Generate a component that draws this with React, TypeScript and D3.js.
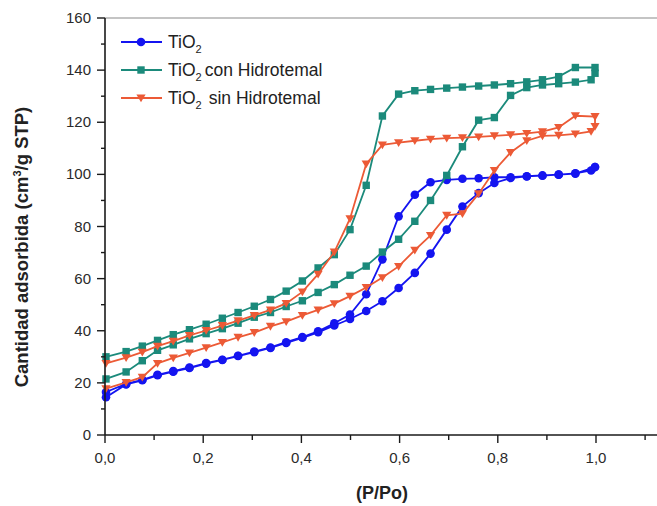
import React from "react";
import * as d3 from "d3";

// Relative pressure steps (P/Po) of the adsorption and desorption branches
const pAds = [0.002, 0.043, 0.076, 0.107, 0.139, 0.172, 0.206, 0.239, 0.271, 0.304, 0.337, 0.369, 0.402, 0.434, 0.467, 0.499, 0.532, 0.565, 0.598, 0.631, 0.663, 0.696, 0.728, 0.761, 0.793, 0.826, 0.859, 0.891, 0.924, 0.958, 0.99, 0.998];
const pDes = [0.998, 0.958, 0.924, 0.891, 0.859, 0.826, 0.793, 0.761, 0.728, 0.696, 0.663, 0.631, 0.598, 0.565, 0.532, 0.499, 0.467, 0.434, 0.402, 0.369, 0.337, 0.304, 0.271, 0.239, 0.206, 0.172, 0.139, 0.107, 0.076, 0.043, 0.002];

// TiO2
const tio2Ads = [14.5, 19.4, 21.0, 22.9, 24.3, 25.7, 27.4, 28.8, 30.3, 31.8, 33.4, 35.3, 37.3, 39.4, 42.0, 44.5, 47.6, 51.3, 56.4, 62.2, 69.6, 78.8, 87.7, 92.8, 96.7, 98.6, 99.2, 99.5, 99.9, 100.4, 101.5, 102.8];
const tio2Des = [102.8, 100.3, 99.9, 99.6, 99.3, 98.9, 98.9, 98.5, 98.3, 97.9, 97.0, 92.2, 83.9, 67.4, 54.0, 46.2, 42.9, 39.8, 37.6, 35.6, 33.6, 32.0, 30.4, 28.9, 27.6, 25.9, 24.5, 23.1, 21.2, 19.6, 16.5];

// TiO2 con Hidrotemal
const conAds = [21.5, 24.2, 28.5, 32.5, 34.6, 36.9, 38.9, 40.8, 42.9, 45.2, 47.0, 49.3, 51.5, 54.7, 57.7, 61.3, 64.8, 70.2, 75.1, 82.0, 90.0, 99.6, 110.6, 120.8, 121.8, 130.3, 133.3, 134.3, 134.8, 135.4, 136.3, 138.8];
const conDes = [141.0, 141.0, 137.5, 136.3, 135.5, 134.8, 134.3, 133.9, 133.5, 133.1, 132.6, 132.1, 130.8, 122.4, 95.8, 78.8, 69.2, 64.1, 59.1, 55.2, 52.0, 49.4, 47.0, 44.8, 42.5, 40.4, 38.5, 36.3, 34.1, 32.0, 30.0];

// TiO2 sin Hidrotemal
const sinAds = [17.8, 20.2, 22.2, 27.5, 29.6, 31.5, 33.5, 35.5, 37.5, 39.3, 41.7, 43.5, 45.9, 48.0, 50.4, 53.3, 56.6, 60.4, 64.7, 70.9, 76.6, 84.3, 84.9, 92.6, 101.5, 108.4, 112.9, 114.8, 115.0, 115.5, 116.5, 118.4];
const sinDes = [122.2, 122.5, 118.0, 116.4, 115.7, 115.2, 114.8, 114.4, 114.1, 113.9, 113.5, 112.9, 112.2, 111.3, 104.0, 83.0, 70.2, 61.7, 54.9, 50.5, 48.0, 45.9, 43.9, 42.0, 40.1, 38.2, 36.0, 34.1, 31.8, 29.7, 27.5];

const seriesNames = ["TiO2", "TiO2 con Hidrotemal", "TiO2 sin Hidrotemal"];
const seriesColors = ["#1414f0", "#1b8a7b", "#ec5a36"];
const seriesMarkers = ["circle", "square", "triangle"];

const xTicks = [0, 0.2, 0.4, 0.6, 0.8, 1.0];
const yTicks = [0, 20, 40, 60, 80, 100, 120, 140, 160];

const W = 657;
const H = 506;
const left = 105;
const top = 18;
const bottom = 435;

const x = d3.scaleLinear().domain([0, 1]).range([left, 596]);
const y = d3.scaleLinear().domain([0, 160]).range([bottom, top]);

type Pt = [number, number];

function loop(ads: number[], des: number[]): Pt[] {
  const a: Pt[] = pAds.map((p, i) => [p, ads[i]]);
  const d: Pt[] = pDes.map((p, i) => [p, des[i]]);
  return a.concat(d);
}

const series = [
  loop(tio2Ads, tio2Des),
  loop(conAds, conDes),
  loop(sinAds, sinDes),
];

const line = d3
  .line<Pt>()
  .x((d) => x(d[0]))
  .y((d) => y(d[1]));

const font = "'Liberation Sans', Arial, sans-serif";

function Marker({ kind, cx, cy, color }: { kind: string; cx: number; cy: number; color: string }) {
  if (kind === "circle") return <circle cx={cx} cy={cy} r={4.3} fill={color} />;
  if (kind === "square") return <rect x={cx - 3.7} y={cy - 3.7} width={7.4} height={7.4} fill={color} />;
  const s = 4.6;
  return (
    <path
      d={`M${cx - s},${cy - s * 0.75} L${cx + s},${cy - s * 0.75} L${cx},${cy + s * 0.95} Z`}
      fill={color}
    />
  );
}

export default function App() {
  React.useEffect(() => {
    document.body.style.margin = "0";
  }, []);

  const xMinor = d3.range(0, 12).map((i) => i / 10);
  const yMinor = d3.range(0, 17).map((i) => i * 10);
  const legendY = [42, 70, 98];

  return (
    <svg
      width={W}
      height={H}
      style={{ position: "absolute", left: 0, top: 0, background: "#fff" }}
      fontFamily={font}
    >
      <rect width={W} height={H} fill="#fff" />

      {/* top frame */}
      <line x1={left} x2={W} y1={top} y2={top} stroke="#8a8a8a" strokeWidth={1.2} />

      {/* data */}
      {series.map((pts, si) => (
        <g key={si}>
          <path d={line(pts) || ""} fill="none" stroke={seriesColors[si]} strokeWidth={1.8} />
          {pts.map((d, i) => (
            <Marker key={i} kind={seriesMarkers[si]} cx={x(d[0])} cy={y(d[1])} color={seriesColors[si]} />
          ))}
        </g>
      ))}

      {/* axes */}
      <line x1={left} x2={W} y1={bottom} y2={bottom} stroke="#1a1a1a" strokeWidth={1.6} />
      <line x1={left} x2={left} y1={top} y2={bottom} stroke="#1a1a1a" strokeWidth={1.6} />

      {xMinor.map((t, i) => (
        <line
          key={"xm" + i}
          x1={x(t)}
          x2={x(t)}
          y1={bottom}
          y2={bottom + (i % 2 === 0 ? 8 : 5)}
          stroke="#1a1a1a"
          strokeWidth={1.4}
        />
      ))}
      {yMinor.map((t, i) => (
        <line
          key={"ym" + i}
          x1={left}
          x2={left - (i % 2 === 0 ? 8 : 4)}
          y1={y(t)}
          y2={y(t)}
          stroke="#1a1a1a"
          strokeWidth={1.4}
        />
      ))}

      {xTicks.map((t) => (
        <text key={"xt" + t} x={x(t)} y={463} textAnchor="middle" fontSize={15} fill="#2a2a2a">
          {t.toFixed(1).replace(".", ",")}
        </text>
      ))}
      {yTicks.map((t) => (
        <text key={"yt" + t} x={91} y={y(t) + 5} textAnchor="end" fontSize={15} fill="#2a2a2a">
          {t}
        </text>
      ))}

      {/* axis titles */}
      <text x={382} y={499} textAnchor="middle" fontSize={18} fontWeight="bold" fill="#222">
        (P/Po)
      </text>
      <text
        transform="translate(28,247) rotate(-90)"
        textAnchor="middle"
        fontSize={18.5}
        fontWeight="bold"
        fill="#222"
      >
        Cantidad adsorbida (cm<tspan fontSize={11} dy={-7}>3</tspan>
        <tspan dy={7}>/g STP)</tspan>
      </text>

      {/* legend */}
      {seriesNames.map((name, i) => {
        const ly = legendY[i];
        const rest = name.slice(4);
        return (
          <g key={"lg" + i}>
            <line x1={121} x2={162} y1={ly} y2={ly} stroke={seriesColors[i]} strokeWidth={1.8} />
            <Marker kind={seriesMarkers[i]} cx={141} cy={ly} color={seriesColors[i]} />
            <text x={168} y={ly + 6} fontSize={17.5} fill="#222">
              TiO
              <tspan fontSize={11} dy={5}>2</tspan>
              {rest ? (
                <tspan dy={-5} dx={i === 2 ? 7 : 3}>
                  {rest.trim()}
                </tspan>
              ) : null}
            </text>
          </g>
        );
      })}
    </svg>
  );
}
